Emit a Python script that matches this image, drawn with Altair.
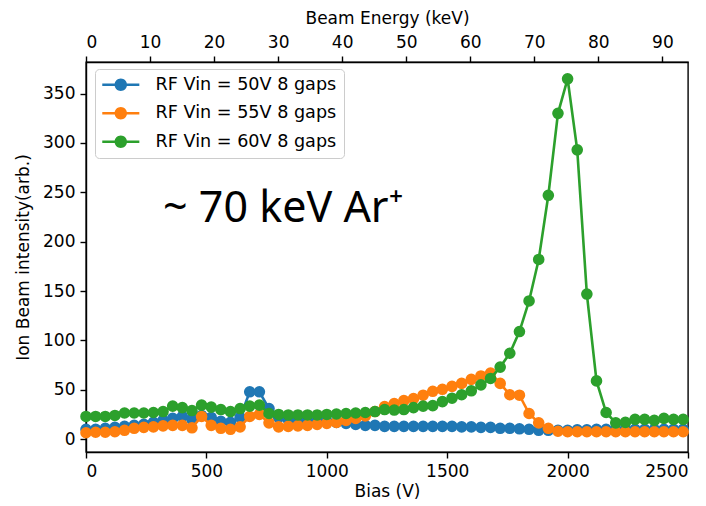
import altair as alt
import pandas as pd

bias = [0, 40, 80, 120, 160, 200, 240, 280, 320, 360, 400, 440, 480, 520, 560, 600,
        640, 680, 720, 760, 800, 840, 880, 920, 960, 1000, 1040, 1080, 1120, 1160, 1200, 1240,
        1280, 1320, 1360, 1400, 1440, 1480, 1520, 1560, 1600, 1640, 1680, 1720, 1760, 1800, 1840, 1880,
        1920, 1960, 2000, 2040, 2080, 2120, 2160, 2200, 2240, 2280, 2320, 2360, 2400, 2440, 2480]

vin50 = [10, 10, 11, 12, 13, 14, 15, 17, 19, 21, 23, 20, 24, 22, 18, 17,
         22, 48, 48, 31, 22, 20, 19, 19, 18, 18, 17, 16, 15, 14, 14, 13,
         13, 13, 13, 13, 13, 13, 13, 12.5, 12.5, 12, 12, 11, 11, 10.5, 10, 9,
         9, 9, 9, 9.5, 9.5, 10, 10, 10, 10, 10, 10, 10, 10, 10, 10]

vin55 = [6.5, 7, 7, 7.5, 9, 11, 12, 12.5, 13.5, 14, 14, 11.5, 23, 14, 11, 10,
         12.5, 23, 25, 16.5, 12.5, 13, 13.5, 14, 15, 16, 17, 19, 21, 23.5, 28, 33,
         36, 39, 41, 44.5, 48.5, 50.5, 53.5, 56.5, 60.5, 64, 67, 56.5, 45, 44.5, 26, 16.5,
         11, 8, 7.5, 7.5, 7.5, 7.5, 7.5, 7.5, 7.5, 7.5, 7.5, 7.5, 7.5, 7.5, 7.5]

vin60 = [23, 23, 23, 24, 26.5, 26.5, 26.5, 27, 28, 33.5, 32, 29, 34.5, 32.5, 30, 28,
         31, 33.5, 34.5, 26, 25, 24.5, 24.5, 24.5, 24.5, 25, 25.5, 26, 26.5, 27, 28, 30,
         29.5, 30, 32, 33.5, 34, 38, 41.5, 45, 49, 55, 61.5, 73, 87, 109, 140, 182,
         247, 330, 365, 293, 147, 59, 27, 16.5, 17, 20, 20, 19, 21, 20, 20]

series_names = ["RF Vin = 50V 8 gaps", "RF Vin = 55V 8 gaps", "RF Vin = 60V 8 gaps"]
series_values = [vin50, vin55, vin60]
colors = ["#1f77b4", "#ff7f0e", "#2ca02c"]

energy_ticks = [0, 10, 20, 30, 40, 50, 60, 70, 80, 90]
y_ticks = [0, 50, 100, 150, 200, 250, 300, 350]
x_ticks = [0, 500, 1000, 1500, 2000, 2500]

annot_bias = [320]
annot_value = [220]
annot_text = ["~ 70 keV Ar\u207a"]

rows = []
for name, vals in zip(series_names, series_values):
    for b, v in zip(bias, vals):
        rows.append({"bias": b, "value": v, "series": name})
df = pd.DataFrame(rows)

xscale = alt.Scale(domain=[0, 2500], nice=False)
yscale = alt.Scale(domain=[-13, 382], nice=False)

# legend symbol: line segment with a filled circle (unit = 8.5 px)
legend_path = ("M-2.18,-0.15 L-0.6,-0.15 L-0.6,0.15 L-2.18,0.15 Z "
               "M0.6,-0.15 L2.18,-0.15 L2.18,0.15 L0.6,0.15 Z "
               "M0.73,0 A0.73,0.73 0 1,1 -0.73,0 A0.73,0.73 0 1,1 0.73,0 Z")

color = alt.Color(
    "series:N",
    scale=alt.Scale(domain=series_names, range=colors),
    legend=alt.Legend(
        title=None, orient="none", legendX=9, legendY=7,
        symbolType=legend_path, symbolSize=289, symbolStrokeWidth=0,
        symbolOffset=10, labelOffset=26, labelLimit=0,
        labelFontSize=17.6, labelFont="DejaVu Sans", labelColor="black",
        padding=7, rowPadding=9.5,
        strokeColor="#cccccc", fillColor="white", cornerRadius=4,
        symbolOpacity=1,
    ),
)

x_enc = alt.X("bias:Q", scale=xscale,
              axis=alt.Axis(title="Bias (V)", values=x_ticks, format="d", orient="bottom"))
y_enc = alt.Y("value:Q", scale=yscale,
              axis=alt.Axis(title="Ion Beam intensity(arb.)", values=y_ticks, format="d", titlePadding=10))

layers = []
for name in series_names:
    base = alt.Chart(df).transform_filter(alt.datum.series == name)
    layers.append(base.mark_line(strokeWidth=2.6).encode(x=x_enc, y=y_enc, color=color))
    layers.append(base.mark_point(filled=True, size=135, opacity=1).encode(x=x_enc, y=y_enc, color=color))

annot_df = pd.DataFrame({"bias": annot_bias, "value": annot_value, "label": annot_text})
annot = alt.Chart(annot_df).mark_text(
    align="left", baseline="alphabetic", font="Noto Sans", fontSize=43, color="black"
).encode(x=alt.X("bias:Q", scale=xscale), y=alt.Y("value:Q", scale=yscale), text="label:N")

main = alt.layer(*layers, annot)

top = alt.Chart(df).transform_filter(alt.datum.series == series_names[0]).transform_calculate(
    energy="datum.bias * 94 / 2500"
).mark_point(opacity=0).encode(
    x=alt.X("energy:Q", scale=alt.Scale(domain=[0, 94], nice=False),
            axis=alt.Axis(orient="top", title="Beam Energy (keV)", values=energy_ticks,
                          format="d", titlePadding=6)),
)

chart = alt.layer(main, top).resolve_scale(x="independent").properties(
    width=602, height=390,
    autosize=alt.AutoSizeParams(type="none"),
    padding={"left": 78, "top": 54, "right": 10, "bottom": 52},
).configure_axis(
    labelFont="DejaVu Sans", labelFontSize=17, labelColor="black",
    titleFont="DejaVu Sans", titleFontSize=17, titleFontWeight="normal", titleColor="black",
    domainColor="black", tickColor="black", domainWidth=1.4, tickWidth=1.4, tickSize=6,
    labelPadding=5, grid=False,
).configure_view(stroke="black", strokeWidth=1.4)

chart.save("out.html", embed_options={"renderer": "svg", "actions": False})
